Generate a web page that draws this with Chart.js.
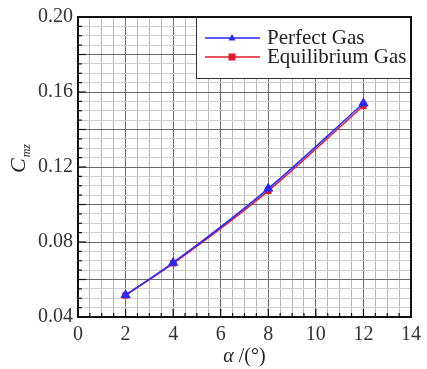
<!DOCTYPE html>
<html>
<head>
<meta charset="utf-8">
<script src="https://cdn.jsdelivr.net/npm/chart.js@4/dist/chart.umd.min.js"></script>
<style>
  html, body { margin: 0; padding: 0; background: #fff; }
  #wrap { width: 427px; height: 369px; }
</style>
</head>
<body>
<div id="wrap"><canvas id="chart" width="427" height="369"></canvas></div>
<script>
// C_mz vs angle of attack, perfect gas vs equilibrium gas

const alpha = [2, 4, 8, 12];
const perfectGas = [0.0517, 0.0690, 0.1085, 0.1540];
const equilibriumGas = [0.0515, 0.0686, 0.1073, 0.1527];

const xTickLabels = ["0", "2", "4", "6", "8", "10", "12", "14"];
const yTickLabels = ["0.04", "0.08", "0.12", "0.16", "0.20"];

const X_MINOR = 0.5, X_MAJOR = 2;
const Y_MINOR = 0.005, Y_MID = 0.02;

const SERIF = "'Liberation Serif', 'DejaVu Serif', serif";
const DARK = "#6a6a6a";
const LIGHT_X = "#b8b8b8";
const LIGHT_Y = "#cfcfcf";

function isMult(v, step) {
  const r = v / step;
  return Math.abs(r - Math.round(r)) < 1e-6;
}

function stepsBetween(min, max, step) {
  const out = [];
  const n = Math.round((max - min) / step);
  for (let i = 0; i <= n; i++) out.push(+(min + i * step).toFixed(6));
  return out;
}

const xMin = Number(xTickLabels[0]), xMax = Number(xTickLabels[xTickLabels.length - 1]);
const yMin = Number(yTickLabels[0]), yMax = Number(yTickLabels[yTickLabels.length - 1]);

// frame, inward ticks, legend and axis titles
const decor = {
  id: "decor",
  afterDraw(chart) {
    const { ctx, chartArea: a, scales } = chart;
    const xs = scales.x, ys = scales.y;
    ctx.save();

    // inward tick marks
    ctx.strokeStyle = "#111";
    ctx.lineWidth = 1.2;
    stepsBetween(xMin, xMax, X_MINOR).forEach(v => {
      const px = xs.getPixelForValue(v);
      const len = isMult(v, X_MAJOR) ? 8 : 4;
      ctx.beginPath(); ctx.moveTo(px, a.bottom); ctx.lineTo(px, a.bottom - len); ctx.stroke();
    });
    stepsBetween(yMin, yMax, Y_MINOR).forEach(v => {
      const py = ys.getPixelForValue(v);
      const len = isMult(v, Y_MID) ? 8 : 4;
      ctx.beginPath(); ctx.moveTo(a.left, py); ctx.lineTo(a.left + len, py); ctx.stroke();
    });

    // legend box
    const lw = 215, lh = 61;
    const lx = a.right - lw, ly = a.top;
    ctx.fillStyle = "#fff";
    ctx.fillRect(lx, ly, lw, lh);
    ctx.strokeStyle = "#333";
    ctx.lineWidth = 1;
    ctx.strokeRect(lx + 0.5, ly + 0.5, lw, lh);

    chart.data.datasets.forEach((ds, i) => {
      const cy = ly + 21 + i * 19;
      ctx.strokeStyle = ds.borderColor;
      ctx.lineWidth = 1.5;
      ctx.beginPath(); ctx.moveTo(lx + 9, cy); ctx.lineTo(lx + 64, cy); ctx.stroke();
      ctx.fillStyle = ds.borderColor;
      const mx = lx + 36;
      if (ds.pointStyle === "triangle") {
        ctx.beginPath();
        ctx.moveTo(mx, cy - 4); ctx.lineTo(mx + 3.5, cy + 2.5); ctx.lineTo(mx - 3.5, cy + 2.5);
        ctx.closePath(); ctx.fill();
      } else {
        ctx.fillRect(mx - 3.5, cy - 3.5, 7, 7);
      }
      ctx.fillStyle = "#222";
      ctx.font = "21px " + SERIF;
      ctx.textAlign = "left";
      ctx.textBaseline = "middle";
      ctx.fillText(ds.label, lx + 71, cy);
    });

    // frame
    ctx.strokeStyle = "#111";
    ctx.lineWidth = 2;
    ctx.strokeRect(a.left, a.top, a.right - a.left, a.bottom - a.top);

    // x title: α /(°)
    ctx.fillStyle = "#222";
    ctx.textBaseline = "alphabetic";
    const cx = (a.left + a.right) / 2;
    ctx.font = "italic 20px " + SERIF;
    const w1 = ctx.measureText("α").width;
    ctx.font = "20px " + SERIF;
    const w2 = ctx.measureText(" /(°)").width;
    const sx = cx - (w1 + w2) / 2;
    ctx.font = "italic 20px " + SERIF;
    ctx.textAlign = "left";
    ctx.fillText("α", sx, 362);
    ctx.font = "20px " + SERIF;
    ctx.fillText(" /(°)", sx + w1, 362);

    // y title: C_mz (rotated)
    ctx.translate(25, (a.top + a.bottom) / 2 + 6);
    ctx.rotate(-Math.PI / 2);
    ctx.font = "italic 22px " + SERIF;
    ctx.fillText("C", 0, 0);
    const cw = ctx.measureText("C").width;
    ctx.font = "italic 12px " + SERIF;
    ctx.fillText("mz", cw + 1, 5);

    ctx.restore();
  }
};

new Chart(document.getElementById("chart"), {
  type: "line",
  data: {
    datasets: [
      {
        label: "Perfect Gas",
        data: alpha.map((a, i) => ({ x: a, y: perfectGas[i] })),
        borderColor: "#2828ff",
        backgroundColor: "#2828ff",
        borderWidth: 1.5,
        pointStyle: "triangle",
        pointRadius: 4.5,
        cubicInterpolationMode: "monotone"
      },
      {
        label: "Equilibrium Gas",
        data: alpha.map((a, i) => ({ x: a, y: equilibriumGas[i] })),
        borderColor: "#e01828",
        backgroundColor: "#e01828",
        borderWidth: 1.5,
        pointStyle: "rect",
        pointRadius: 3.5,
        cubicInterpolationMode: "monotone"
      }
    ]
  },
  options: {
    responsive: false,
    animation: false,
    layout: { padding: { top: 12, right: 14, left: 0, bottom: 0 } },
    plugins: { legend: { display: false }, tooltip: { enabled: false } },
    scales: {
      x: {
        type: "linear",
        min: xMin, max: xMax,
        afterBuildTicks: s => { s.ticks = stepsBetween(xMin, xMax, X_MINOR).map(v => ({ value: v })); },
        afterFit: s => { s.height = 52; },
        border: { display: false },
        grid: {
          drawTicks: false,
          lineWidth: 1,
          color: c => isMult(c.tick.value, X_MAJOR) ? DARK : LIGHT_X
        },
        ticks: {
          autoSkip: false,
          maxRotation: 0,
          padding: 6,
          color: "#333",
          font: { family: SERIF, size: 20 },
          callback: v => xTickLabels.includes(String(v)) ? String(v) : ""
        }
      },
      y: {
        type: "linear",
        min: yMin, max: yMax,
        afterBuildTicks: s => { s.ticks = stepsBetween(yMin, yMax, Y_MINOR).map(v => ({ value: v })); },
        afterFit: s => { s.width = 78; },
        border: { display: false },
        grid: {
          drawTicks: false,
          lineWidth: 1,
          color: c => isMult(c.tick.value, Y_MID) ? DARK : LIGHT_Y
        },
        ticks: {
          autoSkip: false,
          padding: 5,
          color: "#333",
          font: { family: SERIF, size: 20 },
          callback: v => {
            const t = Number(v).toFixed(2);
            return yTickLabels.includes(t) && isMult(v, 0.04) ? t : "";
          }
        }
      }
    }
  },
  plugins: [decor]
});
</script>
</body>
</html>
